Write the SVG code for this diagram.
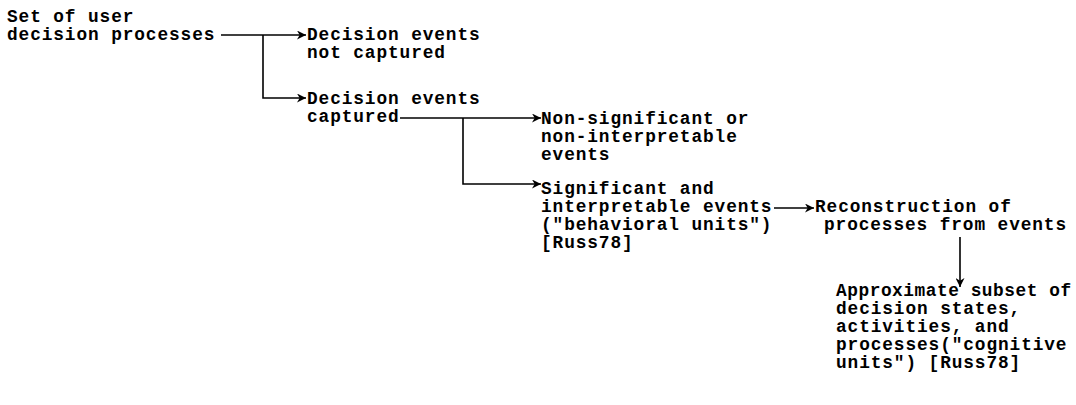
<svg xmlns="http://www.w3.org/2000/svg" width="1076" height="405" viewBox="0 0 1076 405">
<style>
text{font-family:"Liberation Mono","Courier New",monospace;font-weight:bold;font-size:17.8px;letter-spacing:0.9px;fill:#000}
.c{fill:none;stroke:#000;stroke-width:1.6}
</style>
<defs>
<marker id="ah" viewBox="0 0 10 10" refX="10" refY="5" markerWidth="11" markerHeight="9" markerUnits="userSpaceOnUse" orient="auto">
<path d="M0,0 L10,5 L0,10 L3,5 z" fill="#000"/>
</marker>
</defs>
<rect width="1076" height="405" fill="#fff"/>
<g id="connectors">
<path class="c" d="M221,35 H306" marker-end="url(#ah)"/>
<path class="c" d="M263,35 V98 H306" marker-end="url(#ah)"/>
<path class="c" d="M400,118 H541" marker-end="url(#ah)"/>
<path class="c" d="M463,118 V184 H541" marker-end="url(#ah)"/>
<path class="c" d="M774,208 H814" marker-end="url(#ah)"/>
<path class="c" d="M960,237 V287" marker-end="url(#ah)"/>
</g>
<g id="n-set">
<text x="7" y="22">Set of user</text>
<text x="7" y="40">decision processes</text>
</g>
<g id="n-notcaptured">
<text x="307" y="40">Decision events</text>
<text x="307" y="58">not captured</text>
</g>
<g id="n-captured">
<text x="307" y="104">Decision events</text>
<text x="307" y="122">captured</text>
</g>
<g id="n-nonsig">
<text x="541" y="124">Non-significant or</text>
<text x="541" y="142">non-interpretable</text>
<text x="541" y="160">events</text>
</g>
<g id="n-sig">
<text x="541" y="194">Significant and</text>
<text x="541" y="212">interpretable events</text>
<text x="541" y="230">("behavioral units")</text>
<text x="541" y="248">[Russ78]</text>
</g>
<g id="n-recon">
<text x="815" y="212">Reconstruction of</text>
<text x="824" y="230">processes from events</text>
</g>
<g id="n-approx">
<text x="836" y="296" textLength="236" lengthAdjust="spacing">Approximate subset of</text>
<text x="836" y="314">decision states,</text>
<text x="836" y="332">activities, and</text>
<text x="836" y="350">processes("cognitive</text>
<text x="836" y="368">units") [Russ78]</text>
</g>
</svg>
